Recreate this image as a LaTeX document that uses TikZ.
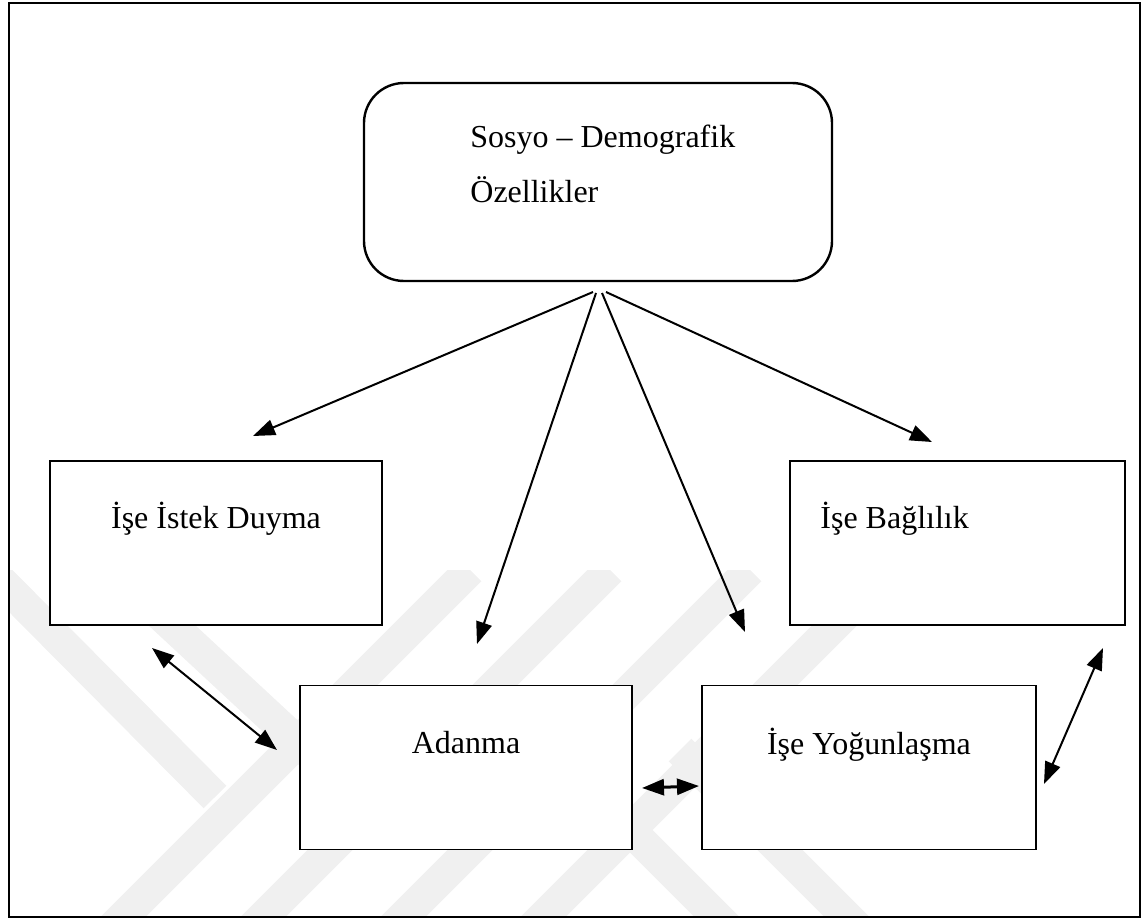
\documentclass[tikz,border=0pt]{standalone}
\usepackage{fontspec}
\setmainfont{Liberation Serif}
\usetikzlibrary{arrows.meta}
\definecolor{wm}{RGB}{240,240,240}
\begin{document}
\begin{tikzpicture}[x=0.5pt,y=-0.5pt,
  box/.style={draw=black, line width=0.7pt, fill=white, inner sep=0pt, rectangle, minimum height=82pt},
  topbox/.style={draw=black, line width=1.2pt, rounded corners=20pt, fill=white, inner sep=0pt, minimum width=234pt, minimum height=99pt},
  lbl/.style={font=\fontsize{16pt}{19pt}\selectfont, inner sep=0pt},
  arr/.style={line width=1pt, -{Triangle[length=11pt,width=8pt]}},
  darr/.style={line width=1pt, {Triangle[length=11pt,width=8pt]}-{Triangle[length=11pt,width=8pt]}},
  wmline/.style={draw=wm, line width=16pt}
]
\useasboundingbox (0,0) rectangle (1147,920);
% watermark
\begin{scope}
  \clip (9,570) rectangle (1140,917);
  \draw[wmline] (-20,560) -- (215,797);
  \draw[wmline] (40,1000) -- (470,570);
  \draw[wmline] (80,540) -- (360,800);
  \draw[wmline] (180,1000) -- (610,570);
  \draw[wmline] (320,1000) -- (750,570);
  \draw[wmline] (460,1000) -- (890,570);
  \draw[wmline] (540,740) -- (760,960);
  \draw[wmline] (680,750) -- (880,950);
\end{scope}
% frame
\draw[line width=1.3pt] (9,3) rectangle (1140,917);
% boxes
\node[topbox] (top) at (598,182) {};
\node[lbl, anchor=base west] (toptxt1) at (470,148) {Sosyo – Demografik};
\node[lbl, anchor=base west] (toptxt2) at (470,203) {Özellikler};
\node[box, minimum width=166pt] (istek) at (216,543) {};
\node[lbl, anchor=base] (istektxt) at (216,528) {İşe İstek Duyma};
\node[box, minimum width=167.5pt] (bag) at (957.5,543) {};
\node[lbl, anchor=base west] (bagtxt) at (820,528) {İşe Bağlılık};
\node[box, minimum width=166pt] (adanma) at (466,767.5) {};
\node[lbl, anchor=base] (adanmatxt) at (466,753) {Adanma};
\node[box, minimum width=167pt] (yog) at (869,767.5) {};
\node[lbl, anchor=base] (yogtxt) at (869,754) {İşe Yoğunlaşma};
% arrow end points
\coordinate (s1) at (593,292);
\coordinate (s2) at (596,293);
\coordinate (s3) at (602,293);
\coordinate (s4) at (606,292);
\coordinate (e1) at (253,436);
\coordinate (e2) at (477,644);
\coordinate (e3) at (745,632);
\coordinate (e4) at (932,442);
\coordinate (d1a) at (152,648);
\coordinate (d1b) at (277,750);
\coordinate (d2a) at (642,788);
\coordinate (d2b) at (699,786);
\coordinate (d3a) at (1103,648);
\coordinate (d3b) at (1044,784);
\draw[arr] (s1) -- (e1);
\draw[arr] (s2) -- (e2);
\draw[arr] (s3) -- (e3);
\draw[arr] (s4) -- (e4);
\draw[darr] (d1a) -- (d1b);
\draw[darr, line width=1.5pt] (d2a) -- (d2b);
\draw[darr] (d3a) -- (d3b);
\end{tikzpicture}
\end{document}
